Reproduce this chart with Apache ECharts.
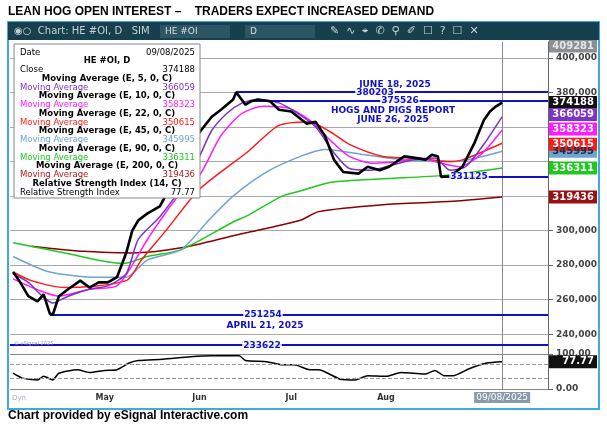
<!DOCTYPE html>
<html><head><meta charset="utf-8">
<script src="https://cdn.jsdelivr.net/npm/echarts@6/dist/echarts.min.js"></script>
<style>html,body{margin:0;padding:0;background:#fff}#c{width:607px;height:428px}</style>
</head><body><div id="c"></div>
<script>
const closeDates=['04-01','04-03','04-06','04-09','04-11','04-13','04-14','04-16','04-19','04-23','04-26','04-29','05-02','05-05','05-08','05-10','05-12','05-15','05-19','05-23','05-27','06-01','06-05','06-08','06-12','06-13','06-16','06-18','06-20','06-24','06-27','07-01','07-06','07-09','07-12','07-15','07-18','07-23','07-26','07-30','08-02','08-07','08-11','08-14','08-16','08-18','08-19','08-22','08-26','08-30','09-02','09-04','09-06','09-08'];
const closeVals=[276000,271000,262000,259000,263000,252000,251254,262000,266000,271000,267000,270000,270000,273000,287000,300000,306000,310000,314000,327000,341000,357000,366000,370000,376000,380203,373000,375000,376000,375000,370000,369000,362000,363000,355000,341000,334000,333000,337000,335000,337000,343000,342000,341000,344000,343000,331125,331500,337000,351000,364000,369000,372000,374188];
const ma5Dates=['04-01','04-06','04-10','04-14','04-19','04-26','05-02','05-08','05-12','05-19','05-28','06-01','06-05','06-10','06-15','06-20','06-27','07-03','07-09','07-15','07-20','07-27','08-03','08-10','08-17','08-22','08-27','09-02','09-08'];
const ma5Vals=[275000,270000,263000,258000,262000,266000,268000,275000,295000,308000,330000,343000,358000,368000,374000,376000,374000,368000,360000,345000,336000,335000,338000,341000,342000,335000,337000,350000,366059];
const ma10Dates=['04-01','04-10','04-16','04-26','05-05','05-10','05-15','05-25','06-01','06-08','06-15','06-22','06-30','07-07','07-14','07-20','07-28','08-05','08-12','08-19','08-25','09-01','09-08'];
const ma10Vals=[272000,265000,262000,266000,268000,280000,295000,320000,332000,355000,368000,372000,371000,364000,352000,343000,339000,340000,342000,339000,337000,344000,358323];
const ma22Dates=['04-01','04-07','04-18','05-08','05-13','05-21','06-01','06-17','06-27','07-07','07-14','07-20','07-31','08-11','08-21','08-26','09-08'];
const ma22Vals=[276000,271000,267000,271000,283000,300000,324000,346000,361000,363000,357000,350000,343000,342000,340000,341000,350615];
const ma45Dates=['04-01','04-13','04-29','05-08','05-15','05-26','06-04','06-12','06-23','07-04','07-12','07-25','08-07','08-23','09-08'];
const ma45Vals=[285000,276000,273000,273000,283000,289000,306000,320000,334000,343000,347000,344000,341000,340000,345995];
const ma90Dates=['04-01','04-18','05-07','05-15','05-26','06-12','06-17','06-28','07-04','07-14','07-31','08-20','09-08'];
const ma90Vals=[293000,287000,281000,285000,289000,305000,309000,320000,323000,328000,330000,332000,336311];
const ma200Dates=['04-07','04-24','05-10','05-26','06-12','06-17','07-04','07-10','07-31','08-23','09-08'];
const ma200Vals=[291000,288000,287000,290000,297000,299000,306000,311000,315000,317000,319436];
const rsiDates=['04-01','04-04','04-09','04-11','04-14','04-16','04-22','04-26','05-01','05-05','05-09','05-12','05-20','05-29','06-05','06-14','06-16','06-23','06-28','07-02','07-07','07-10','07-17','07-22','07-26','08-01','08-06','08-10','08-14','08-17','08-20','08-23','08-28','09-03','09-08'];
const rsiVals=[45,31,26,36,26,45,55,47,53,55,74,81,85,92,95,95,81,78,69,69,55,55,28,26,38,36,47,45,43,53,38,38,57,74,77.77];
const mainTicks=[240000,260000,280000,300000,320000,340000,360000,380000,400000];
const mainTickLabels=[240000,260000,280000,300000,380000,400000];
const monthTicks=['05-01','06-01','07-01','08-01'];
const monthNames=['May','Jun','Jul','Aug'];
const hLines=[{v:380203,from:'06-13'},{v:375526,from:'06-18'},{v:331125,from:'08-19'},{v:251254,from:'04-13'},{v:233622,from:'03-31'}];

const d=s=>{const [m,dd]=s.split('-').map(Number);return Date.UTC(2025,m-1,dd);};
const pair=(ds,vs)=>ds.map((x,i)=>[d(x),vs[i]]);
const XMIN=d('03-31'),XMAX=d('09-23');
const chart=echarts.init(document.getElementById('c'));
const line=(name,ds,vs,color,w,z)=>({name,type:'line',xAxisIndex:0,yAxisIndex:0,data:pair(ds,vs),showSymbol:false,smooth:0.25,lineStyle:{color,width:w},z:z||2,animation:false});
const ff='DejaVu Sans';
chart.setOption({
  animation:false,
  grid:[{left:10,right:59,top:42,height:307},{left:10,right:59,top:349,height:40}],
  xAxis:[
    {type:'value',gridIndex:0,min:XMIN,max:XMAX,axisLine:{show:false},axisTick:{show:false},axisLabel:{show:false},splitLine:{show:false}},
    {type:'value',gridIndex:1,min:XMIN,max:XMAX,axisLine:{show:false},axisTick:{show:false},splitLine:{show:false},
     axisLabel:{customValues:monthTicks.map(d),formatter:v=>monthNames[monthTicks.map(d).indexOf(v)]||'',fontFamily:ff,fontWeight:'bold',fontSize:8,color:'#333',margin:5}}
  ],
  yAxis:[
    {type:'value',gridIndex:0,position:'right',min:231400,max:409281,axisLine:{show:true,lineStyle:{color:'#666'}},
     axisTick:{show:true,customValues:mainTicks,length:5,lineStyle:{color:'#666'}},
     splitLine:{show:true,lineStyle:{color:'#aaa',width:1}},
     axisLabel:{customValues:mainTickLabels,fontFamily:ff,fontSize:9,fontWeight:'bold',color:'#444',margin:8}},
    {type:'value',gridIndex:1,position:'right',min:0,max:114,axisLine:{show:true,lineStyle:{color:'#666'}},
     axisTick:{show:true,customValues:[0,100],length:5},splitLine:{show:false},
     axisLabel:{customValues:[0,100],formatter:v=>v.toFixed(2),fontFamily:ff,fontSize:9,fontWeight:'bold',color:'#444',margin:8}}
  ],
  series:[
    line('MA200',ma200Dates,ma200Vals,'#8b0000',1.5),
    line('MA90',ma90Dates,ma90Vals,'#1ec81e',1.5),
    line('MA45',ma45Dates,ma45Vals,'#6fa3d0',1.5),
    line('MA22',ma22Dates,ma22Vals,'#ff1a1a',1.5),
    line('MA10',ma10Dates,ma10Vals,'#ff1aff',1.5),
    line('MA5',ma5Dates,ma5Vals,'#7a35c8',1.5),
    Object.assign(line('Close',closeDates,closeVals,'#000',2.6,5),{smooth:false,
      markLine:{silent:true,symbol:'none',animation:false,label:{show:false},
        data:[{xAxis:d('09-08'),lineStyle:{color:'#888',width:1,type:'solid'}}].concat(
          hLines.map(h=>[{coord:[d(h.from),h.v],lineStyle:{color:'#1010c8',width:2,type:'solid'}},{coord:[XMAX,h.v]}]))}}),
    {name:'RSI',type:'line',xAxisIndex:1,yAxisIndex:1,data:pair(rsiDates,rsiVals),showSymbol:false,smooth:0.2,lineStyle:{color:'#000',width:1.5},animation:false,
     markLine:{silent:true,symbol:'none',label:{show:false},animation:false,data:[
       {yAxis:70,lineStyle:{color:'#999',type:'dashed',width:1}},{yAxis:30,lineStyle:{color:'#999',type:'dashed',width:1}},
       {yAxis:100,lineStyle:{color:'#888',type:'solid',width:1}},{yAxis:0,lineStyle:{color:'#888',type:'solid',width:1}},
       {xAxis:d('09-08'),lineStyle:{color:'#888',width:1,type:'solid'}}]}}
  ]
});
const py=v=>chart.convertToPixel({yAxisIndex:0},v);
const pr=v=>chart.convertToPixel({yAxisIndex:1},v);
const px=s=>chart.convertToPixel({xAxisIndex:0},d(s));
const g=[];
g.push({type:'rect',shape:{x:8,y:22,width:591,height:387},style:{fill:'none',stroke:'#3fa9e0',lineWidth:2},z:100});
g.push({type:'rect',shape:{x:8,y:22,width:591,height:18},style:{fill:'#17404f'},z:100});
g.push({type:'text',x:14,y:31,style:{text:'◉○  Chart: HE #OI, D   SIM',fill:'#c8d0d4',font:'10px "DejaVu Sans"',verticalAlign:'middle'},z:101});
g.push({type:'rect',shape:{x:160,y:25,width:70,height:13},style:{fill:'#2c5565'},z:101});
g.push({type:'text',x:165,y:31.5,style:{text:'HE #OI',fill:'#ddd',font:'9px "DejaVu Sans"',verticalAlign:'middle'},z:102});
g.push({type:'rect',shape:{x:245,y:25,width:70,height:13},style:{fill:'#2c5565'},z:101});
g.push({type:'text',x:250,y:31.5,style:{text:'D',fill:'#ddd',font:'9px "DejaVu Sans"',verticalAlign:'middle'},z:102});
g.push({type:'text',x:330,y:31.5,style:{text:'✎  ∿  ⌖  ✆  ⚲  ✐  ☐  ?  ☐  ✕',fill:'#c8d0d4',font:'11px "DejaVu Sans"',verticalAlign:'middle'},z:101});
g.push({type:'text',x:8,y:12,style:{text:'LEAN HOG OPEN INTEREST –    TRADERS EXPECT INCREASED DEMAND',fill:'#000',font:'bold 12px "Liberation Sans Narrow","Liberation Sans"',verticalAlign:'middle'},z:100});
g.push({type:'text',x:8,y:416,style:{text:'Chart provided by eSignal Interactive.com',fill:'#000',font:'bold 12px "Liberation Sans Narrow","Liberation Sans"',verticalAlign:'middle'},z:100});
const leg=[['Date','09/08/2025','#000','#000',false],['HE #OI, D','', '#000','',true],['Close','374188','#000','#000',false],
['Moving Average (E, 5, 0, C)','','#000','',true],['Moving Average','366059','#7a35c8','#7a35c8',false],
['Moving Average (E, 10, 0, C)','','#000','',true],['Moving Average','358323','#ff1aff','#ff1aff',false],
['Moving Average (E, 22, 0, C)','','#000','',true],['Moving Average','350615','#ff1a1a','#ff1a1a',false],
['Moving Average (E, 45, 0, C)','','#000','',true],['Moving Average','345995','#6fa3d0','#6fa3d0',false],
['Moving Average (E, 90, 0, C)','','#000','',true],['Moving Average','336311','#1ec81e','#1ec81e',false],
['Moving Average (E, 200, 0, C)','','#000','',true],['Moving Average','319436','#b01818','#b01818',false],
['Relative Strength Index (14, C)','','#000','',true],['Relative Strength Index','77.77','#000','#000',false]];
g.push({type:'rect',shape:{x:14,y:44,width:186,height:154},style:{fill:'#fff',stroke:'#888',lineWidth:1},z:50});
leg.forEach((r,i)=>{const y=52.5+i*8.75;
  if(r[4]) g.push({type:'text',x:107,y,style:{text:r[0],fill:r[2],font:'bold 8.5px "DejaVu Sans"',align:'center',verticalAlign:'middle'},z:51});
  else {g.push({type:'text',x:20,y,style:{text:r[0],fill:r[2],font:'8.5px "DejaVu Sans"',verticalAlign:'middle'},z:51});
        g.push({type:'text',x:195,y,style:{text:r[1],fill:r[3],font:'8.5px "DejaVu Sans"',align:'right',verticalAlign:'middle'},z:51});}
});
const lab=(t,x,y)=>g.push({type:'text',x,y,style:{text:t,fill:'#1010c8',font:'bold 9px "DejaVu Sans"',align:'center',verticalAlign:'middle',backgroundColor:'rgba(255,255,255,0.9)',padding:[0,1]},z:60});
lab('JUNE 18, 2025',395,py(380203)-8);
lab('380203',375,py(380203));
lab('375526',400,py(375526));
lab('HOGS AND PIGS REPORT',393,py(375526)+10);
lab('JUNE 26, 2025',393,py(375526)+19);
lab('331125',469,py(331125));
lab('251254',263,py(251254));
lab('APRIL 21, 2025',265,py(251254)+11);
lab('233622',262,py(233622));
g.push({type:'text',x:14,y:py(233622)-1,style:{text:'© eSignal 2025',fill:'#8890c0',font:'5px "DejaVu Sans"',verticalAlign:'middle'},z:60});
g.push({type:'text',x:12,y:398,style:{text:'Dyn',fill:'#aab',font:'7px "DejaVu Sans"',verticalAlign:'middle'},z:60});
const tag=(t,y,bg,fg)=>{g.push({type:'rect',shape:{x:549,y:y-6.5,width:48,height:13},style:{fill:bg},z:70});
  g.push({type:'text',x:594,y,style:{text:t,fill:fg,font:'bold 10px "DejaVu Sans"',align:'right',verticalAlign:'middle'},z:71});};
tag('409281',46,'#8a8f96','#e6e6e6');
tag('345995',py(345995),'#6fa3d0','#203040');
tag('374188',py(374188),'#111','#fff');
tag('366059',py(366059)-2,'#7a35c8','#fff');
tag('358323',py(358323)-1,'#ff1aff','#fff');
tag('350615',py(350615)+1,'#ff1a1a','#fff');
tag('336311',py(336311),'#1ec81e','#fff');
tag('319436',py(319436),'#9a1010','#fff');
tag('77.77',pr(77.77),'#111','#fff');
const xs=px('09-08');
g.push({type:'rect',shape:{x:xs-28,y:392,width:56,height:11},style:{fill:'#8a9aa8'},z:70});
g.push({type:'text',x:xs,y:397.5,style:{text:'09/08/2025',fill:'#fff',font:'9px "DejaVu Sans"',align:'center',verticalAlign:'middle'},z:71});
chart.setOption({graphic:g});
</script></body></html>
